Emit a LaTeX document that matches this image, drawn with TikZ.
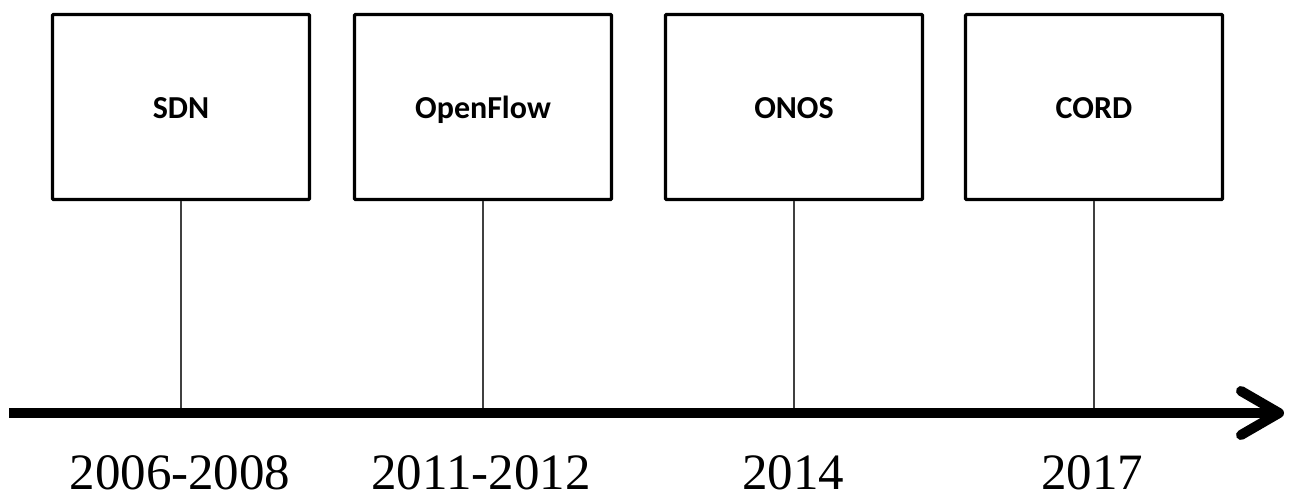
\documentclass[tikz,border=0pt]{standalone}
\usepackage{fontspec}
\setmainfont{Liberation Serif}
\newfontfamily\boxfont{Carlito}
\usetikzlibrary{arrows.meta}
\begin{document}
\begin{tikzpicture}[x=1pt,y=-1pt,
  eventbox/.style={draw=black, line width=3.2pt, rounded corners=1pt, minimum width=257pt, minimum height=185pt, inner sep=0pt, text height=26pt, text depth=4pt, font=\boxfont\bfseries\fontsize{32}{36}\selectfont},
  yearlabel/.style={font=\fontsize{51}{58}\selectfont, inner sep=0pt, anchor=base},
  tick/.style={draw=black!75, line width=1.3pt},
  axis/.style={draw=black, line width=10pt, -{Straight Barb[round, length=38pt, width=44pt]}}
]
\useasboundingbox (0,0) rectangle (1290,496);
\node[eventbox] (sdn) at (181,107) {SDN};
\node[eventbox] (openflow) at (483,107) {OpenFlow};
\node[eventbox] (onos) at (794,107) {ONOS};
\node[eventbox] (cord) at (1094,107) {CORD};
\coordinate (axstart) at (9,413);
\coordinate (axend) at (1284,413);
\draw[tick] (sdn.south) -- (sdn.south |- axstart);
\draw[tick] (openflow.south) -- (openflow.south |- axstart);
\draw[tick] (onos.south) -- (onos.south |- axstart);
\draw[tick] (cord.south) -- (cord.south |- axstart);
\draw[axis] (axstart) -- (axend);
\node[yearlabel] (y1) at (180,489) {2006-2008};
\node[yearlabel] (y2) at (481,489) {2011-2012};
\node[yearlabel] (y3) at (793,489) {2014};
\node[yearlabel] (y4) at (1092,489) {2017};
\end{tikzpicture}
\end{document}
